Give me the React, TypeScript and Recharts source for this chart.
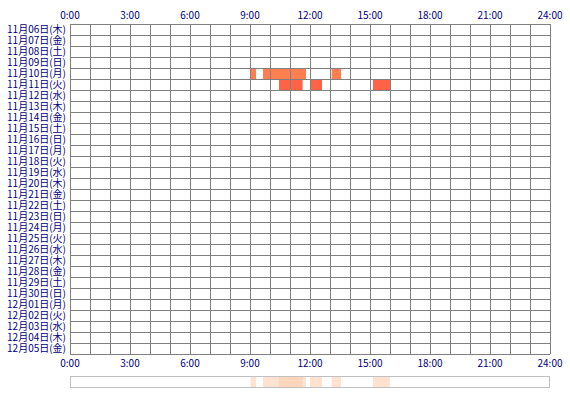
import { ComposedChart, BarChart, Bar, Line, XAxis, YAxis, CartesianGrid, Cell } from 'recharts'

const DAYS = [
  '11月06日(木)', '11月07日(金)', '11月08日(土)', '11月09日(日)', '11月10日(月)',
  '11月11日(火)', '11月12日(水)', '11月13日(木)', '11月14日(金)', '11月15日(土)',
  '11月16日(日)', '11月17日(月)', '11月18日(火)', '11月19日(水)', '11月20日(木)',
  '11月21日(金)', '11月22日(土)', '11月23日(日)', '11月24日(月)', '11月25日(火)',
  '11月26日(水)', '11月27日(木)', '11月28日(金)', '11月29日(土)', '11月30日(日)',
  '12月01日(月)', '12月02日(火)', '12月03日(水)', '12月04日(木)', '12月05日(金)',
]

// active time ranges in hours, per day
const SESSIONS_1110 = [[9.03, 9.3], [9.65, 11.8], [13.08, 13.55]]
const SESSIONS_1111 = [[10.45, 11.63], [12.0, 12.6], [15.15, 16.0]]

const SESSIONS: Record<string, number[][]> = {
  '11月10日(月)': SESSIONS_1110,
  '11月11日(火)': SESSIONS_1111,
}
const DAY_COLORS: Record<string, string> = {
  '11月10日(月)': '#ff7f50',
  '11月11日(火)': '#ff6347',
}

const HOUR_TICKS = [0, 3, 6, 9, 12, 15, 18, 21, 24]
const HOURS = Array.from({ length: 25 }, (_, i) => i)

const MAX_SEG = Math.max(...Object.values(SESSIONS).map((s) => s.length))
const SEG_IDX = Array.from({ length: MAX_SEG }, (_, i) => i)

// gaps + segments, stacked
function toStack(sessions: number[][]) {
  const row: Record<string, number> = {}
  let prev = 0
  sessions.forEach(([a, b], i) => {
    row[`g${i}`] = a - prev
    row[`s${i}`] = b - a
    prev = b
  })
  return row
}

const chartData = DAYS.map((day) => ({ day, ...toStack(SESSIONS[day] || []) }))
const activeDays = DAYS.filter((d) => SESSIONS[d])
const summaryData = [
  Object.assign({ name: 'all' }, ...activeDays.map((d, k) => {
    const r = toStack(SESSIONS[d])
    const out: Record<string, number> = {}
    Object.keys(r).forEach((key) => (out[`${key}_${k}`] = r[key]))
    return out
  })),
]

const tickStyle = { fontSize: 10, fill: '#000080', fontFamily: '"Noto Sans CJK JP", sans-serif' }
const fmt = (h: number) => `${h}:00`

export default function App() {
  return (
    <div style={{ position: 'absolute', left: 0, top: 0, width: 570, height: 400, background: '#fff' }}>
      <ComposedChart
        width={570}
        height={372}
        data={chartData}
        layout="vertical"
        barCategoryGap={0}
        margin={{ top: 0, right: 20, bottom: 0, left: 0 }}
      >
        <XAxis
          xAxisId="top"
          orientation="top"
          type="number"
          domain={[0, 24]}
          ticks={HOUR_TICKS}
          interval={0}
          tickFormatter={fmt}
          height={24}
          axisLine={false}
          tickLine={false}
          tickSize={0}
          tickMargin={5}
          tick={tickStyle}
        />
        <XAxis
          type="number"
          domain={[0, 24]}
          ticks={HOUR_TICKS}
          interval={0}
          tickFormatter={fmt}
          height={18}
          axisLine={false}
          tickLine={false}
          tickSize={0}
          tickMargin={6}
          tick={tickStyle}
        />
        <YAxis
          type="category"
          dataKey="day"
          width={70}
          interval={0}
          axisLine={false}
          tickLine={false}
          tickSize={0}
          tickMargin={4}
          tick={tickStyle}
        />
        {SEG_IDX.map((i) => [
          <Bar key={`g${i}`} dataKey={`g${i}`} stackId="a" fill="transparent" isAnimationActive={false} />,
          <Bar key={`s${i}`} dataKey={`s${i}`} stackId="a" isAnimationActive={false}>
            {chartData.map((row) => (
              <Cell key={row.day} fill={DAY_COLORS[row.day] || 'transparent'} />
            ))}
          </Bar>,
        ])}
        {/* keeps the top axis bound to the data */}
        <Line xAxisId="top" dataKey="g0" stroke="none" dot={false} activeDot={false} legendType="none" isAnimationActive={false} />
        <CartesianGrid
          stroke="#808080"
          strokeWidth={1}
          shapeRendering="crispEdges"
          zIndex={1000}
          horizontalCoordinatesGenerator={({ offset }: any) =>
            DAYS.concat(['']).map((_, i) => offset.top + (i * offset.height) / DAYS.length)
          }
          verticalCoordinatesGenerator={({ offset }: any) =>
            HOURS.map((h) => offset.left + (h * offset.width) / 24)
          }
        />
      </ComposedChart>

      {/* daily overlay strip */}
      <div style={{ position: 'absolute', left: 70, top: 377, width: 480, height: 11 }}>
        <BarChart
          width={480}
          height={11}
          data={summaryData}
          layout="vertical"
          barCategoryGap={0}
          margin={{ top: 0, right: 0, bottom: 0, left: 0 }}
        >
          <XAxis type="number" domain={[0, 24]} hide />
          {activeDays.map((d, k) => (
            <YAxis key={d} yAxisId={`y${k}`} type="category" dataKey="name" hide />
          ))}
          {activeDays.map((d, k) =>
            SEG_IDX.map((i) => [
              <Bar key={`g${i}_${k}`} yAxisId={`y${k}`} dataKey={`g${i}_${k}`} stackId={`d${k}`} fill="transparent" isAnimationActive={false} />,
              <Bar key={`s${i}_${k}`} yAxisId={`y${k}`} dataKey={`s${i}_${k}`} stackId={`d${k}`} fill="#ffcfb0" fillOpacity={0.6} isAnimationActive={false} />,
            ])
          )}
        </BarChart>
        <div
          style={{
            position: 'absolute', left: 0, top: -1, width: 480, height: 12,
            border: '1px solid #c0c0c0', boxSizing: 'border-box', pointerEvents: 'none',
          }}
        />
      </div>
    </div>
  )
}
